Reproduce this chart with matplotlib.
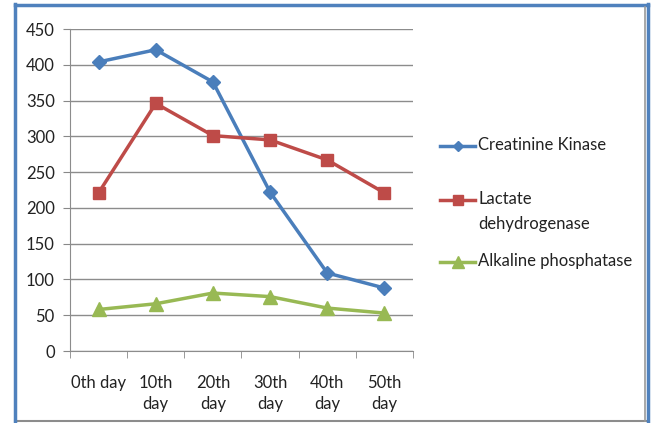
import matplotlib.pyplot as plt
from matplotlib.lines import Line2D

days = ['0th day', '10th\nday', '20th\nday', '30th\nday', '40th\nday', '50th\nday']
creatinine_kinase = [404, 421, 376, 222, 109, 88]
lactate_dh = [221, 346, 301, 295, 267, 221]
alkaline_phos = [58, 66, 81, 76, 60, 53]

plt.rcParams['font.family'] = ['Lato', 'DejaVu Sans']

fig = plt.figure(figsize=(6.53, 4.23), dpi=100)
W, H = 653, 423


def px(xp, yp):
    # pixel position (from top-left) to figure fraction
    return xp / W, 1 - yp / H


# outer frame of the chart object: blue on top/left/right, grey at the bottom
frame = [((15, 421), (648, 421), '#8c8c8c', 1.5),
         ((15, 5), (648, 5), '#4f81bd', 2.5),
         ((15, 4), (15, 421), '#4f81bd', 2.5),
         ((648, 4), (648, 421), '#4f81bd', 2.5),
         ((645, 7), (645, 421), '#9a9a9a', 1.2)]
for (x0, y0), (x1, y1), col, lw in frame:
    a, b = px(x0, y0)
    c, d = px(x1, y1)
    fig.add_artist(Line2D([a, c], [b, d], color=col, linewidth=lw, transform=fig.transFigure))

ax = fig.add_axes([70 / W, (H - 351) / H, 343 / W, 322 / H])
x = range(len(days))

series = [
    (creatinine_kinase, '#4a7ebb', 'D', 7, 'Creatinine Kinase'),
    (lactate_dh, '#be4b48', 's', 9, 'Lactate\ndehydrogenase'),
    (alkaline_phos, '#98b954', '^', 10, 'Alkaline phosphatase'),
]
for vals, col, mk, ms, name in series:
    ax.plot(x, vals, color=col, linewidth=2.5, marker=mk, markersize=ms)

ax.set_xlim(-0.5, len(days) - 0.5)
ax.set_ylim(0, 450)
ax.set_yticks(range(0, 451, 50))
ax.set_xticks(list(x))
ax.set_xticklabels(days, fontsize=12, color='#222222', linespacing=1.4)
ax.set_xticks([i - 0.5 for i in range(len(days) + 1)], minor=True)
ax.tick_params(axis='x', which='major', length=0, pad=17)
ax.tick_params(axis='x', which='minor', length=5, color='#888888')
ax.tick_params(axis='y', length=5, color='#888888', labelsize=12, labelcolor='#222222', pad=6)

ax.grid(axis='y', color='#8c8c8c', linewidth=1)
ax.set_axisbelow(True)
for side in ['top', 'right']:
    ax.spines[side].set_visible(False)
for side in ['left', 'bottom']:
    ax.spines[side].set_color('#8c8c8c')

# legend entries, right of the plot
legend_y = [146, 200, 262]
for (vals, col, mk, ms, name), yp in zip(series, legend_y):
    a, b = px(440, yp)
    c, _ = px(475, yp)
    fig.add_artist(Line2D([a, c], [b, b], color=col, linewidth=2.5, transform=fig.transFigure))
    fig.add_artist(Line2D([(a + c) / 2], [b], color=col, marker=mk, markersize=ms * 0.8,
                          transform=fig.transFigure))
    tx, ty = px(478, yp)
    fig.text(tx, ty + 9.5 / H, name, fontsize=12, color='#222222', va='top', linespacing=1.75,
             transform=fig.transFigure)

plt.savefig('out.png', dpi=100)
